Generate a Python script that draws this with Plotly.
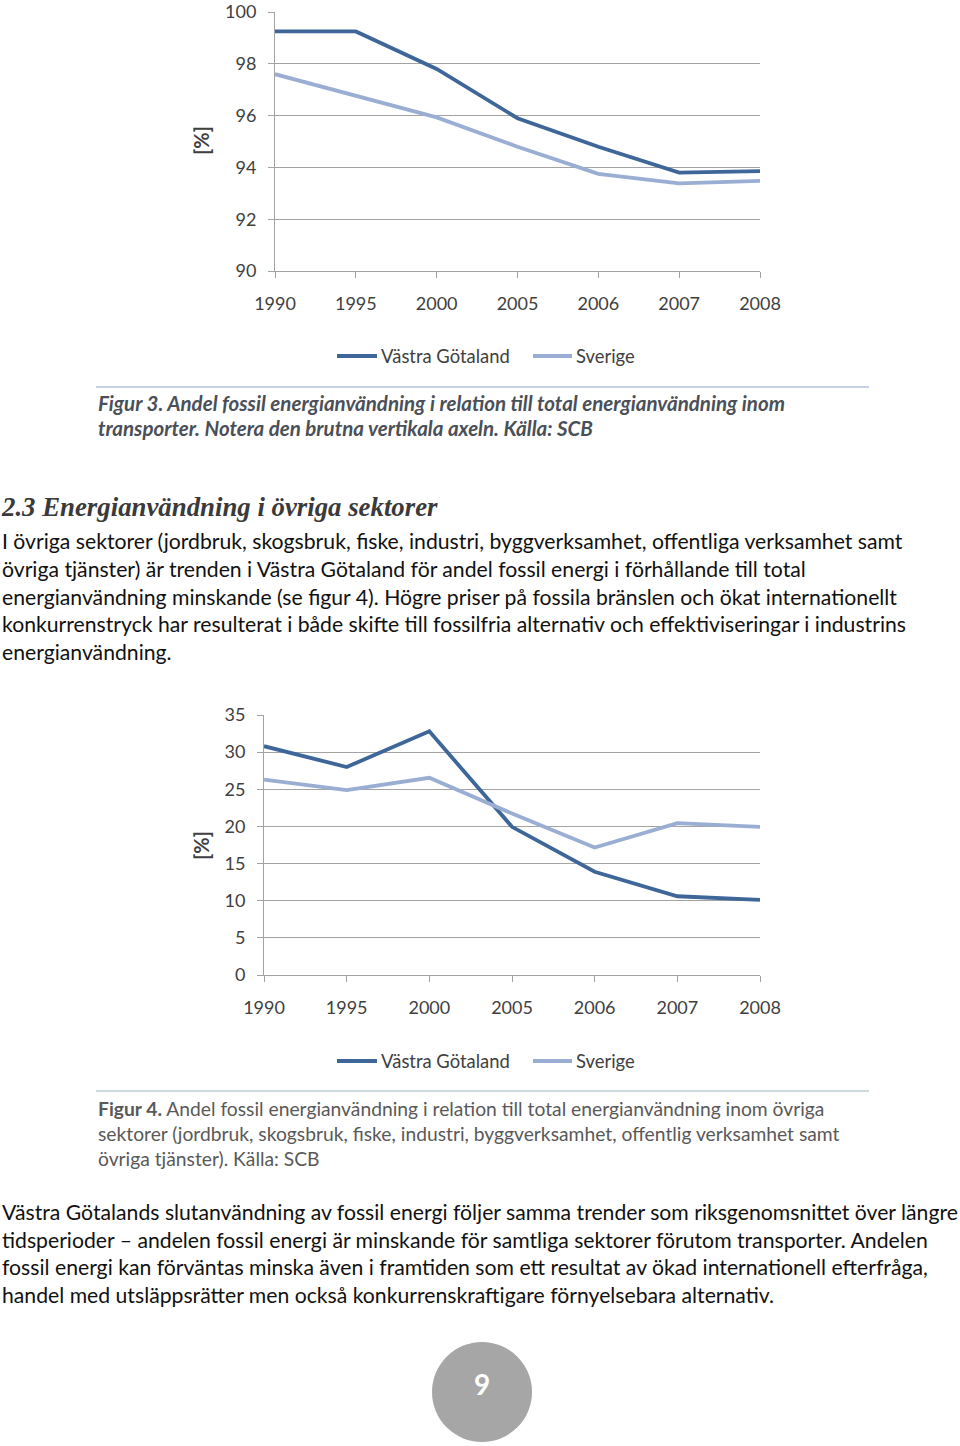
import plotly.graph_objects as go

W, H = 960, 1446

years = ["1990", "1995", "2000", "2005", "2006", "2007", "2008"]
series_names = ["Västra Götaland", "Sverige"]
series_colors = ["#3E6699", "#9AAED3"]

fig3_vastra = [99.25, 99.25, 97.8, 95.9, 94.8, 93.8, 93.86]
fig3_sverige = [97.6, 96.75, 95.93, 94.8, 93.75, 93.38, 93.48]
fig3_yticks = [90, 92, 94, 96, 98, 100]

fig4_vastra = [30.8, 28.0, 32.8, 19.95, 13.9, 10.6, 10.1]
fig4_sverige = [26.3, 24.9, 26.55, 21.75, 17.15, 20.45, 19.95]
fig4_yticks = [0, 5, 10, 15, 20, 25, 30, 35]

caption3 = ["Figur 3. Andel fossil energianvändning i relation till total energianvändning inom",
            "transporter. Notera den brutna vertikala axeln. Källa: SCB"]
heading = "2.3 Energianvändning i övriga sektorer"
para1 = ["I övriga sektorer (jordbruk, skogsbruk, fiske, industri, byggverksamhet, offentliga verksamhet samt",
         "övriga tjänster) är trenden i Västra Götaland för andel fossil energi i förhållande till total",
         "energianvändning minskande (se figur 4). Högre priser på fossila bränslen och ökat internationellt",
         "konkurrenstryck har resulterat i både skifte till fossilfria alternativ och effektiviseringar i industrins",
         "energianvändning."]
caption4 = ["<b>Figur 4.</b> Andel fossil energianvändning i relation till total energianvändning inom övriga",
            "sektorer (jordbruk, skogsbruk, fiske, industri, byggverksamhet, offentlig verksamhet samt",
            "övriga tjänster). Källa: SCB"]
para2 = ["Västra Götalands slutanvändning av fossil energi följer samma trender som riksgenomsnittet över längre",
         "tidsperioder – andelen fossil energi är minskande för samtliga sektorer förutom transporter. Andelen",
         "fossil energi kan förväntas minska även i framtiden som ett resultat av ökad internationell efterfråga,",
         "handel med utsläppsrätter men också konkurrenskraftigare förnyelsebara alternativ."]
page_number = "9"

FONT = "Lato"
TXT = "#404040"
GRID = "#A3A3A3"


def px(x):
    return x / W


def py(y):
    return 1 - y / H


fig = go.Figure()

for i, (vals, name) in enumerate([(fig3_vastra, series_names[0]), (fig3_sverige, series_names[1])]):
    fig.add_trace(go.Scatter(x=years, y=vals, mode="lines", name=name,
                             line=dict(color=series_colors[i], width=3.8),
                             cliponaxis=False, showlegend=False, xaxis="x", yaxis="y"))
for i, (vals, name) in enumerate([(fig4_vastra, series_names[0]), (fig4_sverige, series_names[1])]):
    fig.add_trace(go.Scatter(x=years, y=vals, mode="lines", name=name,
                             line=dict(color=series_colors[i], width=3.8),
                             cliponaxis=False, showlegend=False, xaxis="x2", yaxis="y2"))

xcommon = dict(type="category", range=[0, 6], showgrid=False, showline=True, linecolor=GRID,
               linewidth=1, ticks="outside", ticklen=6, tickcolor=GRID, automargin=False,
               tickfont=dict(family=FONT, size=18, color=TXT), ticklabelstandoff=10,
               zeroline=False, fixedrange=True)
ycommon = dict(showgrid=True, gridcolor=GRID, gridwidth=1, showline=True, linecolor=GRID,
               linewidth=1, ticks="outside", ticklen=6, tickcolor=GRID, automargin=False,
               tickfont=dict(family=FONT, size=18, color=TXT), ticklabelstandoff=8,
               ticklabeloverflow="allow", zeroline=False, fixedrange=True)

fig.update_layout(
    template="none",
    width=W, height=H, margin=dict(l=0, r=0, t=0, b=0, pad=0, autoexpand=False),
    paper_bgcolor="white", plot_bgcolor="white", showlegend=False,
    xaxis=dict(domain=[px(275), px(760)], anchor="y", **xcommon),
    yaxis=dict(domain=[py(271), py(12)], anchor="x", range=[90, 100.001], tickvals=fig3_yticks, **ycommon),
    xaxis2=dict(domain=[px(264), px(760)], anchor="y2", **xcommon),
    yaxis2=dict(domain=[py(975), py(715)], anchor="x2", range=[0, 35.001], tickvals=fig4_yticks, **ycommon),
)

ann = []
shapes = []

# y-axis titles
for yc in (141, 846):
    ann.append(dict(x=px(201), y=py(yc), xref="paper", yref="paper", text="<b>[%]</b>",
                    textangle=-90, showarrow=False, font=dict(family=FONT, size=20, color=TXT),
                    xanchor="center", yanchor="middle"))

# legends
for ly in (356, 1061):
    for (x0, x1, tx), name, col in zip([(337, 377, 379), (533, 572, 574)], series_names, series_colors):
        shapes.append(dict(type="line", xref="paper", yref="paper", x0=px(x0), x1=px(x1),
                           y0=py(ly), y1=py(ly), line=dict(color=col, width=3.8)))
        ann.append(dict(x=px(tx), y=py(ly), xref="paper", yref="paper", text=name, showarrow=False,
                        xanchor="left", yanchor="middle", font=dict(family=FONT, size=18.4, color=TXT)))

# caption separator lines
shapes.append(dict(type="line", xref="paper", yref="paper", x0=px(96), x1=px(869), y0=py(387), y1=py(387),
                   line=dict(color="#8EA1D2", width=1.2)))
shapes.append(dict(type="line", xref="paper", yref="paper", x0=px(96), x1=px(869), y0=py(1091), y1=py(1091),
                   line=dict(color="#9DB4BE", width=1.2)))


def text_lines(lines, x, y0, dy, size, color, family=FONT, prefix="", suffix=""):
    for k, t in enumerate(lines):
        ann.append(dict(x=px(x), y=py(y0 + k * dy), xref="paper", yref="paper",
                        text=prefix + t + suffix, showarrow=False, xanchor="left", yanchor="middle",
                        font=dict(family=family, size=size, color=color)))


text_lines(caption3, 96, 403, 25, 20.5, "#4A4F58", prefix="<b><i>", suffix="</i></b>")
ann.append(dict(x=px(-1), y=py(507), xref="paper", yref="paper", text="<b><i>" + heading + "</i></b>",
                showarrow=False, xanchor="left", yanchor="middle",
                font=dict(family="Liberation Serif", size=26.8, color="#3A3A3A")))
text_lines(para1, 0, 541, 27.8, 21.2, "#111111")
text_lines(caption4, 96, 1108, 25, 19.25, "#595959")
text_lines(para2, 0, 1212, 27.7, 21.2, "#111111")

# page number badge
shapes.append(dict(type="circle", xref="paper", yref="paper", x0=px(432), x1=px(532), y0=py(1442), y1=py(1342),
                   fillcolor="#A6A6A6", line=dict(color="#A6A6A6", width=0)))
ann.append(dict(x=px(482), y=py(1384), xref="paper", yref="paper", text="<b>" + page_number + "</b>",
                showarrow=False, xanchor="center", yanchor="middle",
                font=dict(family=FONT, size=28, color="white")))

fig.update_layout(annotations=ann, shapes=shapes)
fig.write_html("out.html", config={"displayModeBar": False},
               post_script="document.body.style.margin='0px';")
